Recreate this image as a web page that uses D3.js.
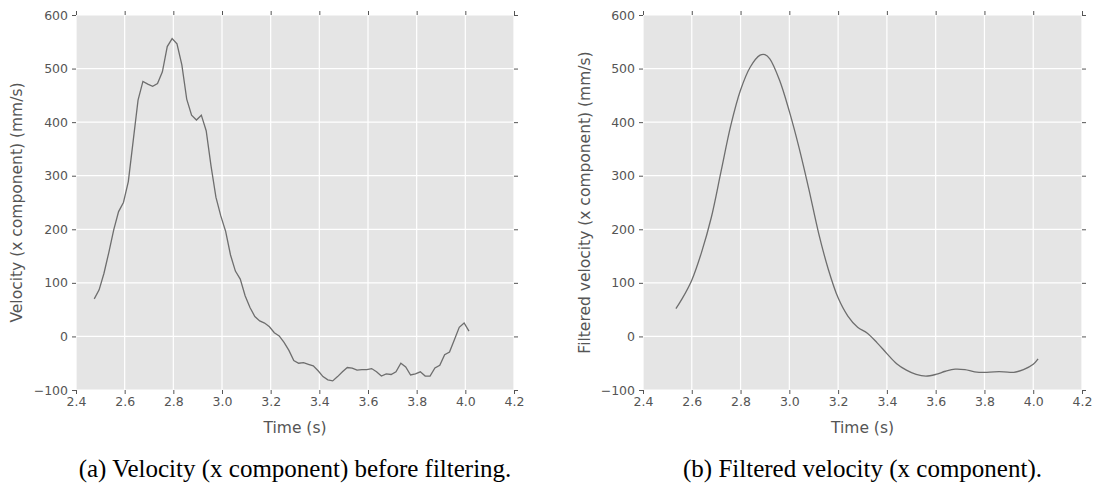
<!DOCTYPE html>
<html>
<head>
<meta charset="utf-8">
<script src="https://cdn.jsdelivr.net/npm/d3@7"></script>
<style>
  body { margin: 0; background: #fff; }
  svg { display: block; }
  .tick text { font-family: "DejaVu Sans", sans-serif; fill: #555; }
  .caption { font-family: "Liberation Serif", "Times New Roman", serif; fill: #000; }
</style>
</head>
<body>
<div id="chart-container"></div>
<script>
// raw velocity samples (x component)
const rawTime = [
  2.475, 2.495, 2.515, 2.535, 2.555, 2.575, 2.595, 2.615, 2.635, 2.655,
  2.675, 2.695, 2.715, 2.735, 2.755, 2.775, 2.795, 2.815, 2.835, 2.855,
  2.875, 2.895, 2.915, 2.935, 2.955, 2.975, 2.995, 3.015, 3.035, 3.055,
  3.075, 3.095, 3.115, 3.135, 3.155, 3.175, 3.195, 3.215, 3.235, 3.255,
  3.275, 3.295, 3.315, 3.335, 3.355, 3.375, 3.395, 3.415, 3.435, 3.455,
  3.475, 3.495, 3.515, 3.535, 3.555, 3.575, 3.595, 3.615, 3.635, 3.655,
  3.675, 3.695, 3.715, 3.735, 3.755, 3.775, 3.795, 3.815, 3.835, 3.855,
  3.875, 3.895, 3.915, 3.935, 3.955, 3.975, 3.995, 4.015
];
const rawVelocity = [
  70, 87, 118, 157, 199, 233, 250, 289, 365, 441,
  476, 471, 467, 472, 494, 541, 556, 546, 507, 443,
  413, 404, 413, 384, 318, 260, 225, 196, 152, 122,
  107, 76, 54, 37, 29, 25, 18, 7, 1, -11,
  -26, -45, -50, -49, -52, -55, -64, -75, -81, -83,
  -75, -66, -58, -59, -63, -62, -62, -60, -66, -74,
  -70, -71, -66, -50, -57, -72, -70, -66, -74, -74,
  -59, -54, -34, -29, -6, 17, 25, 10
];

// filtered velocity
const filteredTime = [
  2.535, 2.56, 2.60, 2.64, 2.68, 2.72, 2.76, 2.80, 2.84, 2.88,
  2.90, 2.92, 2.96, 3.00, 3.04, 3.08, 3.12, 3.16, 3.20, 3.24,
  3.28, 3.32, 3.36, 3.40, 3.44, 3.48, 3.52, 3.56, 3.60, 3.64,
  3.68, 3.72, 3.76, 3.80, 3.84, 3.88, 3.92, 3.96, 4.00, 4.02
];
const filteredVelocity = [
  52, 70, 105, 157, 222, 308, 394, 460, 503, 525,
  526, 518, 478, 420, 352, 275, 193, 125, 72, 38,
  17, 6, -12, -32, -51, -63, -71, -74, -71, -65,
  -61, -62, -66, -67, -66, -66, -67, -62, -52, -42
];

const xTicks = [2.4, 2.6, 2.8, 3.0, 3.2, 3.4, 3.6, 3.8, 4.0, 4.2];
const yTicks = [-100, 0, 100, 200, 300, 400, 500, 600];

const width = 1096;
const height = 487;

const svg = d3.select("#chart-container")
  .append("svg")
  .attr("width", width)
  .attr("height", height);

function generateChart(opts) {
  const x = d3.scaleLinear().domain([2.4, 4.2]).range([opts.left, opts.right]);
  const y = d3.scaleLinear().domain([-100, 600]).range([390, 15]);

  const g = svg.append("g");

  // panel background
  g.append("rect")
    .attr("x", opts.left)
    .attr("y", 15)
    .attr("width", opts.right - opts.left)
    .attr("height", 375)
    .attr("fill", "#e5e5e5");

  // grid lines
  g.selectAll(".vgrid")
    .data(xTicks)
    .enter()
    .append("line")
    .attr("x1", d => x(d)).attr("x2", d => x(d))
    .attr("y1", 15).attr("y2", 390)
    .attr("stroke", "#fff")
    .attr("stroke-width", 1.2);

  g.selectAll(".hgrid")
    .data(yTicks)
    .enter()
    .append("line")
    .attr("x1", opts.left).attr("x2", opts.right)
    .attr("y1", d => y(d)).attr("y2", d => y(d))
    .attr("stroke", "#fff")
    .attr("stroke-width", 1.2);

  // axes
  const bottom = g.append("g")
    .attr("transform", `translate(0, 390)`)
    .call(d3.axisBottom(x).tickValues(xTicks).tickFormat(d3.format(".1f")).tickSize(4).tickPadding(3));
  const left = g.append("g")
    .attr("transform", `translate(${opts.left}, 0)`)
    .call(d3.axisLeft(y).tickValues(yTicks).tickSize(4).tickPadding(4));
  const top = g.append("g")
    .attr("transform", `translate(0, 15)`)
    .call(d3.axisTop(x).tickValues(xTicks).tickFormat("").tickSize(4));
  const right = g.append("g")
    .attr("transform", `translate(${opts.right}, 0)`)
    .call(d3.axisRight(y).tickValues(yTicks).tickFormat("").tickSize(4));

  [bottom, left, top, right].forEach(a => {
    a.select(".domain").remove();
    a.selectAll(".tick line").attr("stroke", "#555");
    a.selectAll(".tick text").style("font-size", "12.5px");
  });

  // data line
  const line = d3.line()
    .x((d, i) => x(opts.time[i]))
    .y(d => y(d))
    .curve(opts.curve);

  g.append("path")
    .datum(opts.values)
    .attr("d", line)
    .attr("fill", "none")
    .attr("stroke", "#6e6e6e")
    .attr("stroke-width", 1.3);

  // axis labels
  g.append("text")
    .attr("x", (opts.left + opts.right) / 2)
    .attr("y", 433)
    .attr("text-anchor", "middle")
    .style("font-family", "DejaVu Sans, sans-serif")
    .style("font-size", "15.5px")
    .attr("fill", "#555")
    .text("Time (s)");

  g.append("text")
    .attr("transform", `translate(${opts.ylabelX}, 202.5) rotate(-90)`)
    .attr("text-anchor", "middle")
    .style("font-family", "DejaVu Sans, sans-serif")
    .style("font-size", "15.5px")
    .attr("fill", "#555")
    .text(opts.ylabel);

  // caption
  g.append("text")
    .attr("class", "caption")
    .attr("x", (opts.left + opts.right) / 2)
    .attr("y", 477)
    .attr("text-anchor", "middle")
    .style("font-size", "25px")
    .text(opts.caption);
}

generateChart({
  left: 76, right: 514,
  time: rawTime, values: rawVelocity,
  curve: d3.curveLinear,
  ylabel: "Velocity (x component) (mm/s)",
  ylabelX: 22,
  caption: "(a) Velocity (x component) before filtering."
});

generateChart({
  left: 643, right: 1082,
  time: filteredTime, values: filteredVelocity,
  curve: d3.curveCatmullRom.alpha(0.5),
  ylabel: "Filtered velocity (x component) (mm/s)",
  ylabelX: 590,
  caption: "(b) Filtered velocity (x component)."
});
</script>
</body>
</html>
